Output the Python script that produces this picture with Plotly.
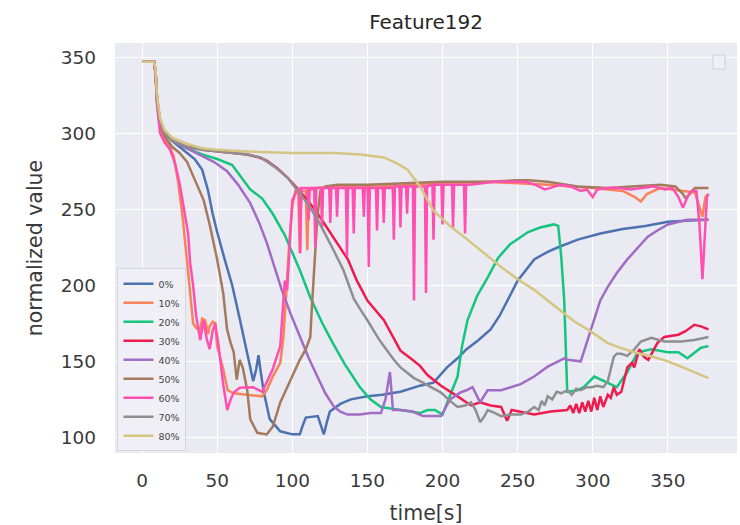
import plotly.graph_objects as go

# ---------------- data ----------------
labels = ["0%", "10%", "20%", "30%", "40%", "50%", "60%", "70%", "80%"]
colors = ["#4c72b0", "#f8825a", "#14c47f", "#ee1c4e", "#a06cc4",
          "#a47a5e", "#ff4fb0", "#8f8f8f", "#d4c682"]

x_0 = [0, 8, 9, 10, 12, 15, 20, 25, 30, 35, 40, 44, 47, 50, 55, 60, 65, 70, 74, 76, 77.5, 79, 81, 85, 92, 100,
       105, 107, 109, 117, 119, 121, 123, 125, 132, 139, 150, 160, 172, 185, 194, 203, 210, 216, 224, 232, 238,
       243, 250, 261, 270, 277, 290, 305, 320, 335, 350, 365, 377]
y_0 = [347, 347, 340, 322, 308, 300, 295, 291, 287, 283, 276, 262, 247, 235, 217, 200, 178, 155, 137, 145, 154, 143,
       130, 112, 104, 102, 102, 108, 113, 114, 108, 102, 110, 117, 122, 125, 127, 128, 130, 134, 136, 146, 152,
       158, 164, 171, 180, 190, 203, 217, 222, 225, 230, 234, 237, 239, 241.7, 242.5, 243]

x_10 = [0, 8, 9, 10, 12, 15, 18, 21, 24, 27, 30, 32, 34, 36, 38.7, 40, 42, 44, 45, 47, 48.7, 50, 54, 57, 61, 70,
        80, 83, 87, 92, 94, 96, 98, 100, 102, 104, 105, 106, 109, 110, 111, 115, 130, 160, 200, 230, 250, 270,
        300, 320, 328, 332, 336, 345, 360, 368, 373, 375, 377]
y_10 = [347, 347, 340, 320, 303, 296, 292, 285, 268, 245, 215, 195, 175, 172, 171, 178, 177, 168, 173, 176, 175,
        160, 145, 131, 129, 128, 127, 131, 140, 149, 165, 195, 228, 252, 262, 262, 221, 262, 262, 223, 262, 264,
        265, 265, 267, 268, 267, 266, 264, 262, 258, 255, 260, 264, 262, 261, 245, 258, 260]

x_20 = [0, 8, 9, 10, 12, 15, 20, 30, 40, 50, 60, 72, 80, 87, 95, 100, 105, 112, 120, 127, 135, 145, 152, 159,
        172, 180, 185, 190, 195, 200, 205, 210, 213, 216.6, 223, 230, 237, 245, 257, 265, 274, 277, 279, 281,
        282, 283, 290, 294, 301, 307, 313, 316, 323, 330, 339, 350, 357, 363, 372, 377]
y_20 = [347, 347, 340, 322, 308, 300, 295, 290, 286, 283, 279, 263, 257, 247, 233, 222, 210, 192, 175, 162, 148,
        133, 125, 120, 118, 117, 116, 118, 118, 115, 127, 140, 160, 177, 193, 205, 218, 227, 235, 238, 240, 239,
        219, 190, 160, 130, 131, 133, 140, 137, 134, 133, 143, 156, 158, 156, 156, 152, 159, 160]

x_30 = [0, 8, 9, 10, 12, 15, 20, 30, 40, 50, 60, 70, 78, 83, 90, 96.6, 103, 110, 117, 123, 130, 137, 143, 150,
        161, 172, 180, 185, 190, 199, 210, 219, 225, 232, 239, 243, 246, 255, 261, 272, 283, 285, 287, 289, 291,
        293, 295, 297, 299, 301, 303, 305, 307, 310, 312, 314, 316, 319, 323, 326, 327.6, 331, 334, 337, 343,
        347.6, 357, 362, 367.6, 372, 377]
y_30 = [347, 347, 340, 322, 308, 300, 295, 291, 289, 288, 287, 286, 284, 282, 277, 271, 264, 256, 247, 238, 228,
        217, 203, 190, 177, 157, 151, 147, 141, 134, 127, 121, 123, 121, 120, 111, 118, 116, 115, 117, 118, 121,
        116, 122, 116, 123, 117, 124, 117, 126, 118, 127, 120, 128, 126, 133, 128, 130, 146, 149, 146, 158, 153,
        151, 162, 166, 167.5, 170, 174, 173, 171]

x_40 = [0, 8, 9, 10, 12, 15, 20, 30, 39, 48, 56.6, 64, 72, 78, 83, 88, 93, 99, 105, 111, 116.7, 122, 127.8, 132,
        136.7, 145, 152, 159, 162, 165, 167, 172, 180, 187, 193, 199, 205, 212, 216, 220, 225, 230, 239, 252,
        261, 270, 281, 283, 292, 296.6, 301, 305, 310, 316, 323, 330, 336.6, 343, 350, 363, 370, 377]
y_40 = [347, 347, 340, 322, 308, 300, 295, 290, 286, 281, 275, 266, 254, 241, 228, 213, 197, 181, 166, 152, 140,
        129, 120, 117, 115, 115, 116, 116, 125, 143, 118, 118, 117, 114, 114, 114, 125, 129.6, 131, 133, 123,
        131, 131, 135, 140, 146.5, 152, 151, 150, 164, 177, 190, 199, 208, 217, 225, 232, 236, 240, 243, 243,
        243]

x_50 = [0, 8, 9, 10, 12, 15, 20, 25, 30, 35, 41, 45, 50, 54, 56.6, 59, 61, 63, 65, 67, 70, 72, 76.7, 83, 87, 92,
        96.6, 100, 105, 109, 112, 113, 114, 115.5, 116.7, 118.7, 122, 130, 150, 200, 230, 250, 257, 270, 290,
        310, 330, 345, 355, 360, 362, 365, 368, 377]
y_50 = [347, 347, 340, 322, 306, 298, 291, 287, 281, 270, 256, 240, 217, 195, 171, 162, 156, 138, 151, 146, 131,
        112, 103, 102, 107, 123, 133, 141, 151, 158, 166, 185, 203, 228, 245, 262, 265, 266, 266, 268, 268, 269,
        269, 268, 265, 264, 265, 266, 265, 260, 257, 261, 264, 264]

x_60 = [0, 8, 9, 10, 12, 15, 18.7, 22, 25, 28, 30.7, 32, 34, 36, 38.7, 41, 43, 45, 47, 48.7, 51, 54, 56.7, 59,
        61, 65, 70, 74, 80, 83, 87, 92, 95, 96.6, 98, 100, 103,
        104.6, 105.3, 106, 110.2, 110.9, 111.6, 114.6, 115.3, 116, 119.1, 119.8, 120.5, 124.6, 125.3, 126,
        129.1, 129.8, 130.5, 135.7, 136.4, 137.1, 140.2, 140.9, 141.6, 146.9, 147.6, 148.3, 150.2, 150.9, 151.6,
        155.7, 156.4, 157.1, 160.2, 160.9, 161.6, 166.9, 167.6, 168.3, 171.3, 172, 172.7, 175.7, 176.4, 177.1,
        180.3, 181, 181.7, 188.3, 189, 189.7, 193.3, 194, 194.7, 199.3, 200, 200.7, 206.3, 207, 207.7,
        214.3, 215, 215.7,
        218, 225, 235, 245, 255, 262, 268, 272, 278, 285, 292, 296, 300, 303, 310, 318, 325, 333, 340, 348,
        353, 357, 360, 363, 366, 369, 371, 373, 375, 376, 377]
y_60 = [347, 347, 338, 318, 300, 294, 289, 280, 267, 250, 234, 215, 200, 180, 164, 177, 165, 158, 170, 175, 160,
        135, 118, 125, 129.5, 132.7, 133, 133, 130, 136, 145, 160, 203, 197, 225, 256, 262,
        264, 221, 264, 264, 243, 264, 264, 225, 264, 264, 238, 264, 264, 241, 264,
        264, 245, 264, 264, 219, 264, 264, 234, 264, 264, 245, 264, 264, 212, 264,
        264, 236, 264, 264, 241, 264, 264, 230, 265, 265, 238, 265, 265, 247, 265,
        265, 190, 265, 265, 195, 265, 266, 230, 266, 266, 240, 266, 266, 238, 266,
        266, 234, 266,
        266, 267, 268, 268, 268, 266, 263, 264, 266, 265, 262, 263, 258, 263, 264, 264, 263, 264, 265, 263,
        264, 258, 251, 258, 262, 262, 240, 204, 235, 258, 260]

x_70 = [0, 8, 9, 10, 12, 15, 20, 30, 40, 50, 60, 70, 79, 88, 96.6, 103, 110, 117, 123, 128, 134, 141, 146, 150,
        158, 167.6, 172, 181, 185, 192, 199, 205, 210, 215, 219, 222, 225, 228, 230, 235, 239, 245, 252, 257,
        261, 264, 266, 268, 270, 273, 276, 279, 283, 286, 289, 292, 296, 299, 303, 307, 310, 312, 314, 316, 319,
        323, 327.8, 332, 339, 344, 348, 354, 359, 367.6, 373, 377]
y_70 = [347, 347, 340, 322, 308, 300, 295, 291, 289, 288, 287, 286, 284, 278, 271, 263, 254, 243, 232, 222, 210,
        191, 183, 177, 164, 151, 146, 139, 137, 133, 129.5, 124, 120, 121, 123, 118, 110, 114, 118, 116, 114,
        115, 115, 117, 120, 118, 124, 121, 127, 125, 130, 129, 131, 128, 132, 131, 133, 133, 134, 133, 137, 145,
        153, 155, 155, 153.6, 158, 163, 165.5, 164, 163, 163, 163, 164, 165, 166]

x_80 = [0, 8, 9, 10, 12, 15, 20, 30, 40, 50, 70, 100, 128, 145, 161, 170, 176.7, 181, 185, 194, 205, 216.6, 228,
        239, 250, 261, 270, 279, 288, 296.6, 310, 318, 327.6, 340, 350, 360, 370, 377]
y_80 = [347, 347, 342, 325, 310, 302, 297, 293, 290, 289, 288, 287, 287, 286, 284, 280, 276, 270, 265, 249, 239,
        230, 221, 212, 204, 197, 190, 183, 176, 171, 162, 159, 156, 153, 150, 146, 142, 139]

xs = [x_0, x_10, x_20, x_30, x_40, x_50, x_60, x_70, x_80]
ys = [y_0, y_10, y_20, y_30, y_40, y_50, y_60, y_70, y_80]

x_ticks = [0, 50, 100, 150, 200, 250, 300, 350]
y_ticks = [100, 150, 200, 250, 300, 350]

# ---------------- figure ----------------
FONT = "DejaVu Sans"
TXT = "#262626"

fig = go.Figure()
for lab, col, xv, yv in zip(labels, colors, xs, ys):
    fig.add_trace(go.Scatter(x=xv, y=yv, mode="lines", name=lab,
                             line=dict(color=col, width=2.5)))

fig.update_layout(
    width=740, height=525,
    margin=dict(l=115, r=3, t=43, b=72),
    paper_bgcolor="white",
    plot_bgcolor="#EAEAF2",
    font=dict(family=FONT, color=TXT),
    title=dict(text="Feature192", x=0.5, xref="paper", y=1 - 22 / 525,
               yref="container", xanchor="center", yanchor="middle",
               font=dict(size=20, color=TXT, family=FONT)),
    xaxis=dict(range=[-18, 396], tickvals=x_ticks, showgrid=True,
               gridcolor="white", gridwidth=1.3, zeroline=False,
               showline=False, ticks="", ticklabelstandoff=14,
               tickfont=dict(size=18.5, color="#3a3a3a"),
               title=dict(text="time[s]", font=dict(size=20.5, color="#3a3a3a"),
                          standoff=16)),
    yaxis=dict(range=[89.75, 359.25], tickvals=y_ticks, showgrid=True,
               gridcolor="white", gridwidth=1.3, zeroline=False,
               showline=False, ticks="", ticklabelstandoff=18,
               tickfont=dict(size=18.5, color="#3a3a3a"),
               title=dict(text="normalized value",
                          font=dict(size=20.5, color="#3a3a3a"), standoff=12)),
    legend=dict(x=0.004, y=0.004, xanchor="left", yanchor="bottom",
                bgcolor="rgba(240,240,246,0.85)", bordercolor="#d6d6de",
                borderwidth=1, font=dict(size=9.5, color="#444444"),
                tracegroupgap=0, itemwidth=30),
    showlegend=True,
)

# empty legend frame at the top right of the axes
fig.add_shape(type="rect", xref="paper", yref="paper",
              x0=0.9614, x1=0.9807, y0=0.9366, y1=0.9707,
              line=dict(color="#d0d0d8", width=1),
              fillcolor="rgba(240,240,246,0.85)", layer="above")

fig.write_html("out.html")
